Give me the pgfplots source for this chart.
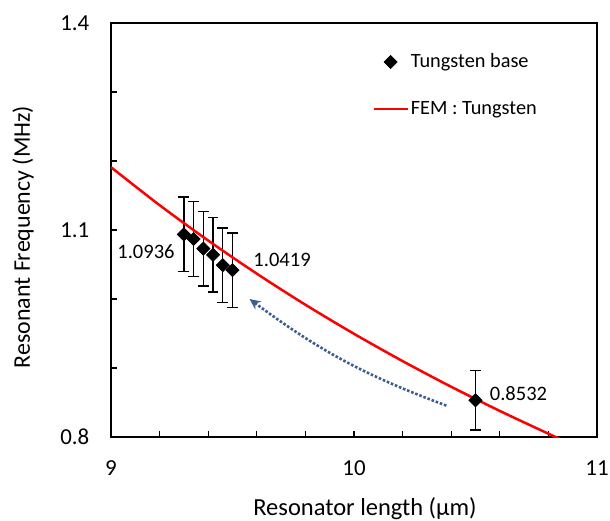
\documentclass[border=0pt]{standalone}
\usepackage{fontspec}
\setmainfont{Carlito}
\usepackage{pgfplots}
\pgfplotsset{compat=1.18}
\usetikzlibrary{arrows.meta}
\definecolor{arrowblue}{RGB}{59,94,145}
\begin{document}
\begin{tikzpicture}
\begin{axis}[
  scale only axis, width=243bp, height=207bp,
  at={(0,0)}, anchor=south west,
  xmin=9, xmax=11, ymin=0.8, ymax=1.4,
  xtick={9,10,11}, ytick={0.8,1.1,1.4},
  xticklabels={9,10,11}, yticklabels={0.8,1.1,1.4},
  minor x tick num=4, minor y tick num=2,
  tick pos=left, tick align=inside,
  major tick length=3bp, minor tick length=3bp,
  every tick/.style={black, line width=0.6bp},
  every minor tick/.style={black, line width=0.6bp},
  axis line style={black, line width=0.6bp},
  /pgf/number format/assume math mode=true,
  xticklabel style={font=\fontsize{11.5}{13}\selectfont, anchor=center, yshift=-15.5bp},
  yticklabel style={font=\fontsize{11.5}{13}\selectfont, anchor=east, xshift=-7.3bp},
  xlabel={Resonator length (μm)},
  ylabel={Resonant Frequency (MHz)},
  every axis x label/.style={at={(rel axis cs:0.5,0)}, anchor=base, yshift=-39bp, xshift=5.5bp, font=\fontsize{12.3}{14}\selectfont},
  every axis y label/.style={at={(rel axis cs:0,0.5)}, xshift=-44bp, yshift=-3.5bp, rotate=90, anchor=center, font=\fontsize{12}{14}\selectfont},
  legend style={at={(rel axis cs:0.537,0.849)}, anchor=west, draw=none, fill=none,
    inner sep=0pt, row sep=12.5bp, font=\fontsize{10.2}{12}\selectfont,
    nodes={inner sep=1bp, text height=7bp, text depth=2bp}},
  legend cell align=left,
  clip=true,
]
\addplot[only marks, mark=square*, mark size=2.3bp, black, mark options={rotate=45},
  error bars/.cd, y dir=both, y explicit,
  error bar style={line width=0.7bp, black},
  error mark options={rotate=90, mark size=2.7bp, line width=0.7bp, black}]
  table[x=x, y=y, y error=e] {
x y e
9.30 1.0936 0.054
9.34 1.0870 0.054
9.38 1.0730 0.054
9.42 1.0640 0.054
9.46 1.0490 0.054
9.50 1.0419 0.054
10.50 0.8532 0.043
};
\addlegendentry{Tungsten base}
\addplot[red, line width=1.25bp, smooth] table {
x y
9.0 1.1910
9.2 1.1360
9.4 1.0847
9.6 1.0367
9.8 0.9917
10.0 0.9496
10.2 0.9100
10.4 0.8728
10.6 0.8378
10.8 0.8048
10.9 0.7890
};
\addlegendentry{FEM : Tungsten}
\draw[arrowblue, line width=1.3bp, dash pattern=on 1.3bp off 0.9bp,
  -{Stealth[length=5.5bp, width=5bp]}]
  (axis cs:10.38,0.8455) to[bend left=8] (axis cs:9.57,1.000);
\node[font=\fontsize{10.3}{12}\selectfont] at (axis cs:9.144,1.069) {1.0936};
\node[font=\fontsize{10.3}{12}\selectfont] at (axis cs:9.704,1.0565) {1.0419};
\node[font=\fontsize{10.3}{12}\selectfont] at (axis cs:10.677,0.8633) {0.8532};
\end{axis}
\pgfresetboundingbox
\path (-55.5bp,-42bp) rectangle (249.5bp,218.5bp);
\end{tikzpicture}
\end{document}
